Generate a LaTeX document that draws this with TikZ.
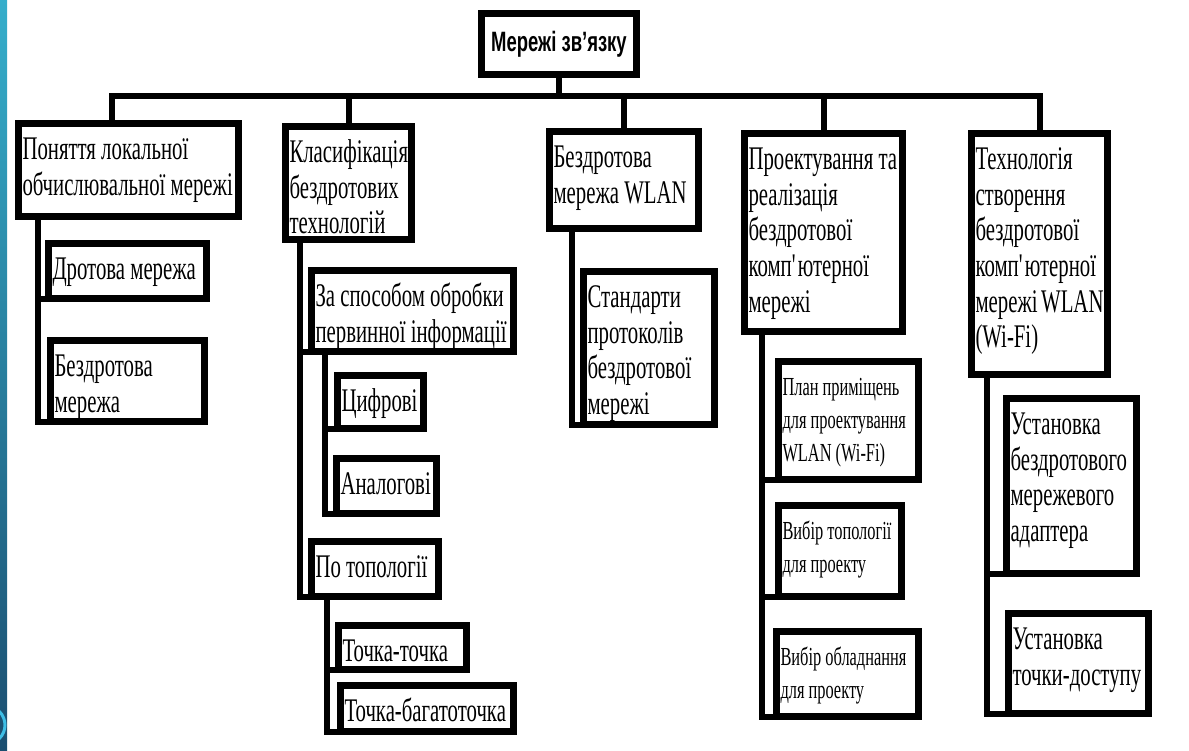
\documentclass[tikz,border=0pt]{standalone}
\usepackage{fontspec}
\setmainfont{Liberation Serif}[FakeStretch=0.63]
\newfontfamily\headfont{Liberation Sans}[FakeStretch=0.66]
\usepackage{tikz}
\usetikzlibrary{calc}
\newdimen\px \px=0.5pt
\newcommand{\boxtext}[3]{\parbox[c][#2\px][t]{#1\px}{\raggedright\rule{0pt}{0.85\baselineskip}#3}}
\definecolor{stripTop}{RGB}{53,174,203}
\definecolor{stripBot}{RGB}{27,78,112}
\definecolor{ringblue}{RGB}{62,190,230}
\tikzstyle{head} = [rectangle, draw=black, line width=3.5pt, outer sep=0pt, inner sep=0pt, anchor=north west, minimum width=77.5pt, minimum height=30.5pt, font=\headfont\bfseries\fontsize{14}{16}\selectfont]
\tikzstyle{box} = [rectangle, draw=black, line width=3.5pt, outer sep=0pt, inner xsep=2pt, inner ysep=3pt, anchor=north west, font=\fontsize{16.5}{17.8}\selectfont]
\tikzstyle{sbox} = [box, font=\fontsize{13}{16.5}\selectfont]
\tikzstyle{link} = [line width=3pt, line cap=rect]

\begin{document}
\begin{tikzpicture}[x=0.5pt, y=-0.5pt]
\useasboundingbox (0,0) rectangle (1189,750);
% side strip
\shade[top color=stripTop, bottom color=stripBot] (0,0) rectangle (7,750);
\begin{scope}
\clip (0,0) rectangle (7,750);
\draw[ringblue, line width=1.5pt] (-14,725) circle (19);
\end{scope}

\node (root) [head] at (478+3.5,10+3.5) {Мережі зв’язку};

% first level
\node (lan) [box] at (15+3.5,120+3.5) {\boxtext{212}{81}{Поняття~локальної\\обчислювальної~мережі}};
\node (cls) [box] at (282+3.5,123+3.5) {\boxtext{118}{101}{Класифікація\\бездротових\\технологій}};
\node (wlan) [box] at (546+3.5,128+3.5) {\boxtext{141}{85}{Бездротова\\мережа~WLAN}};
\node (prj) [box] at (741+3.5,130+3.5) {\boxtext{150}{186}{Проектування~та\\реалізація\\бездротової\\комп\textquotesingle ютерної\\мережі}};
\node (tech) [box] at (968+3.5,130+3.5) {\boxtext{128}{229}{Технологія\\створення\\бездротової\\комп\textquotesingle ютерної\\мережі~WLAN\\(Wi-Fi)}};

% second level
\node (wired) [box] at (45+3.5,240+3.5) {\boxtext{150}{43}{Дротова~мережа}};
\node (wless) [box] at (47+3.5,337+3.5) {\boxtext{146}{69}{Бездротова\\мережа}};
\node (proc) [box] at (308+3.5,267+3.5) {\boxtext{194}{69}{За~способом~обробки\\первинної~інформації}};
\node (dig) [box] at (334+3.5,372+3.5) {\boxtext{78}{41}{Цифрові}};
\node (ana) [box] at (333+3.5,455+3.5) {\boxtext{92}{43}{Аналогові}};
\node (topo) [box] at (308+3.5,538+3.5) {\boxtext{119}{43}{По~топології}};
\node (p2p) [box] at (335+3.5,622+3.5) {\boxtext{120}{32}{Точка-точка}};
\node (p2m) [box] at (337+3.5,682+3.5) {\boxtext{165}{34}{Точка-багатоточка}};
\node (std) [box] at (580+3.5,268+3.5) {\boxtext{123}{141}{Стандарти\\протоколів\\бездротової\\мережі}};
\node (plan) [sbox] at (775+3.5,358+3.5) {\boxtext{132}{106}{План~приміщень\\для~проектування\\WLAN~(Wi-Fi)}};
\node (tsel) [sbox] at (775+3.5,502+3.5) {\boxtext{115}{79}{Вибір~топології\\для~проекту}};
\node (hsel) [sbox] at (773+3.5,628+3.5) {\boxtext{134}{73}{Вибір~обладнання\\для~проекту}};
\node (adap) [box] at (1003+3.5,395+3.5) {\boxtext{122}{163}{Установка\\бездротового\\мережевого\\адаптера}};
\node (ap) [box] at (1005+3.5,610+3.5) {\boxtext{132}{88}{Установка\\точки-доступу}};

% bus
\coordinate (busL) at (112,96);
\draw[link] (busL) -- (tech.north |- busL);
\draw[link] (root.south) -- (root.south |- busL);
\draw[link] (busL) -- (busL |- lan.north);
\draw[link] (cls.north |- busL) -- (cls.north);
\draw[link] (wlan.north |- busL) -- (wlan.north);
\draw[link] (prj.north |- busL) -- (prj.north);
\draw[link] (tech.north |- busL) -- (tech.north);

% trunks
\coordinate (lanT) at (38,216);
\coordinate (clsT) at (300,239);
\coordinate (procT) at (325,351);
\coordinate (topoT) at (327,596);
\coordinate (wlanT) at (572,228);
\coordinate (prjT) at (762,331);
\coordinate (techT) at (987,374);
\draw[link] (lanT) |- (wired.south west);
\draw[link] (lanT) |- (wless.south west);
\draw[link] (clsT) |- (proc.south west);
\draw[link] (clsT) |- (topo.south west);
\draw[link] (procT) |- (dig.south west);
\draw[link] (procT) |- (ana.south west);
\draw[link] (topoT) |- (p2p.south west);
\draw[link] (topoT) |- (p2m.south west);
\draw[link] (wlanT) |- (std.south west);
\draw[link] (prjT) |- (plan.south west);
\draw[link] (prjT) |- (tsel.south west);
\draw[link] (prjT) |- (hsel.south west);
\draw[link] (techT) |- (adap.south west);
\draw[link] (techT) |- (ap.south west);
\end{tikzpicture}
\end{document}
